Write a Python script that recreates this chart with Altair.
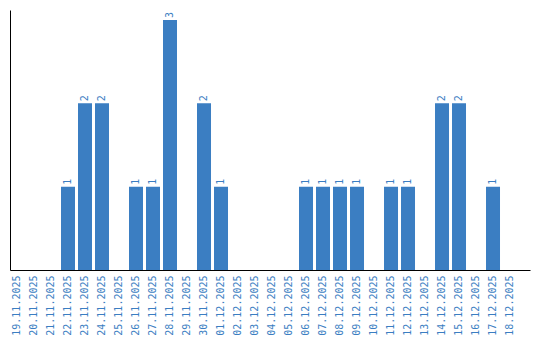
import altair as alt
import pandas as pd

dates = ["19.11.2025", "20.11.2025", "21.11.2025", "22.11.2025", "23.11.2025",
         "24.11.2025", "25.11.2025", "26.11.2025", "27.11.2025", "28.11.2025",
         "29.11.2025", "30.11.2025", "01.12.2025", "02.12.2025", "03.12.2025",
         "04.12.2025", "05.12.2025", "06.12.2025", "07.12.2025", "08.12.2025",
         "09.12.2025", "10.12.2025", "11.12.2025", "12.12.2025", "13.12.2025",
         "14.12.2025", "15.12.2025", "16.12.2025", "17.12.2025", "18.12.2025"]
counts = [0, 0, 0, 1, 2, 2, 0, 1, 1, 3, 0, 2, 1, 0, 0,
          0, 0, 1, 1, 1, 1, 0, 1, 1, 0, 2, 2, 0, 1, 0]

df = pd.DataFrame({"date": dates, "count": counts})

BLUE = "#3b7ec2"
FONT = "DejaVu Sans Mono"

x = alt.X("date:N", sort=dates, title=None,
          scale=alt.Scale(paddingInner=3 / 17, paddingOuter=0.382, align=0),
          axis=alt.Axis(labelAngle=-90, labelColor=BLUE, labelFont=FONT,
                        labelFontSize=10, ticks=False, grid=False,
                        domainColor="black", labelPadding=5, labelOverlap=False))
y = alt.Y("count:Q", title=None,
          scale=alt.Scale(domain=[0, 3.12], nice=False),
          axis=alt.Axis(labels=False, ticks=False, grid=False, domainColor="black"))

bars = alt.Chart(df).mark_bar(color=BLUE).encode(x=x, y=y)
text = alt.Chart(df).transform_filter("datum.count > 0").mark_text(
    angle=270, align="left", baseline="middle", dx=2, color=BLUE,
    font=FONT, fontSize=10
).encode(x=x, y=y, text="count:Q")

chart = (bars + text).properties(
    width=520, height=260,
    autosize=alt.AutoSizeParams(type="none"),
    padding={"left": 10, "top": 10, "right": 10, "bottom": 70},
).configure_view(stroke=None)

chart.save("out.html", embed_options={"renderer": "svg", "actions": False})
